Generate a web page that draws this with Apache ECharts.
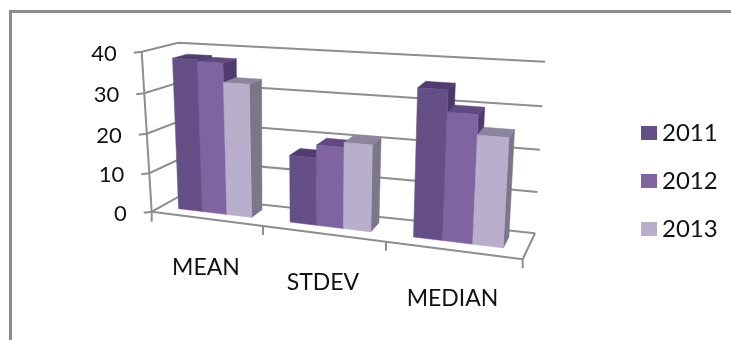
<!DOCTYPE html>
<html>
<head>
<meta charset="utf-8">
<style>html,body{margin:0;padding:0;background:#fff}#chart{width:731px;height:340px}</style>
<script src="https://cdn.jsdelivr.net/npm/echarts@6/dist/echarts.min.js"></script>
</head>
<body>
<div id="chart"></div>
<script>
// Summary statistics per year
const categories = ['MEAN', 'STDEV', 'MEDIAN'];
const years = ['2011', '2012', '2013'];
const values2011 = [38, 16.7, 35];
const values2012 = [37.6, 19.8, 30];
const values2013 = [33, 21, 25.4];
const yTicks = [0, 10, 20, 30, 40];

const W = 731, H = 340;
const FONT = 'Lato, Carlito, "Open Sans", sans-serif';
const AXIS = '#8e8e8e';

// Box corners of the 3D scene: front/back, left/right, bottom/top
const box = {
  flb: [151.7, 211.7], frb: [522.7, 259.3], flt: [141.7, 51.7], frt: [533, 78],
  blb: [180, 196],     brb: [535, 233.3],   blt: [178.3, 42.7], brt: [545, 61.7]
};
const warp = (t, a) => a * t / (1 + (a - 1) * t);
const mix = (p, q, t) => [p[0] + (q[0] - p[0]) * t, p[1] + (q[1] - p[1]) * t];

// Perspective-like mapping from normalised scene coordinates to the canvas
function project(u, v, w) {
  const uu = warp(u, 0.857), vv = warp(v, 0.95);
  const fb = mix(box.flb, box.frb, uu), ft = mix(box.flt, box.frt, uu);
  const bb = mix(box.blb, box.brb, uu), bt = mix(box.blt, box.brt, uu);
  return mix(mix(fb, ft, vv), mix(bb, bt, vv), w);
}

const DEPTH_FRONT = 0.33, DEPTH_BACK = 0.75;
const GROUP_SHARE = 2 / 3;

const line = (pts, width, color) => ({
  type: 'polyline',
  shape: { points: pts },
  style: { stroke: color || AXIS, lineWidth: width, fill: null }
});
const face = (pts, color) => ({
  type: 'polygon',
  shape: { points: pts },
  style: { fill: color, stroke: color, lineWidth: 0.5 }
});
const label = (text, x, y, align, size) => ({
  type: 'text',
  style: { text, x, y, align, verticalAlign: 'middle', fill: '#111', font: size + 'px ' + FONT }
});

// Back wall gridlines, value axis ticks and their labels
function renderGrid(params, api) {
  const tick = api.value(1);
  const v = 1 - api.coord([0, tick])[1] / H;
  const front = project(0, v, 0), fromLeft = project(0, v, 1), right = project(1, v, 1);
  const end = [front[0] - 8, front[1] + 1];
  return {
    type: 'group',
    children: [
      line([end, front, fromLeft, right], 2),
      label(String(tick), end[0] - 17, end[1] + 1, 'right', 22)
    ]
  };
}

// Floor outline, category ticks and the category labels below them
function renderFloor(params, api) {
  const i = api.value(0);
  const band = api.size([1, 0])[0] / W;
  const uc = api.coord([i, 0])[0] / W;
  const start = project(uc - band / 2, 0, 0), stop = project(uc + band / 2, 0, 0);
  const children = [
    line([start, stop], 2),
    line([stop, [stop[0], stop[1] + 9]], 2)
  ];
  if (i === 0) {
    children.push(line([start, [start[0], start[1] + 10]], 2));
    children.push(line([project(0, 1, 0), start], 2));
  }
  if (i === categories.length - 1) children.push(line([stop, project(1, 0, 1)], 2));
  const mid = project(uc, 0, 0);
  children.push(label(categories[i], mid[0], mid[1] + 48.5, 'center', 23));
  return { type: 'group', children };
}

// One 3D column: side and top first, then the front face
function makeBarRenderer(seriesIndex, colors) {
  return function (params, api) {
    const i = api.value(0);
    const band = api.size([1, 0])[0] / W;
    const uc = api.coord([i, 0])[0] / W;
    const barW = band * GROUP_SHARE / years.length;
    const u0 = uc - band * GROUP_SHARE / 2 + seriesIndex * barW, u1 = u0 + barW;
    const v = 1 - api.coord([i, api.value(1)])[1] / H;
    const a = DEPTH_FRONT, b = DEPTH_BACK;
    return {
      type: 'group',
      children: [
        face([project(u1, 0, a), project(u1, 0, b), project(u1, v, b), project(u1, v, a)], colors.side),
        face([project(u0, v, a), project(u1, v, a), project(u1, v, b), project(u0, v, b)], colors.top),
        face([project(u0, 0, a), project(u1, 0, a), project(u1, v, a), project(u0, v, a)], colors.front)
      ]
    };
  };
}

const palette = [
  { front: '#664f87', side: '#4b3868', top: '#503c6e' },
  { front: '#8064a2', side: '#4f3c6f', top: '#5f4980' },
  { front: '#b9aecb', side: '#7c7689', top: '#8d859f' }
];
const seriesValues = [values2011, values2012, values2013];

const barSeries = years.map((year, s) => ({
  type: 'custom',
  name: year,
  renderItem: makeBarRenderer(s, palette[s]),
  data: seriesValues[s].map((val, i) => [i, val]),
  itemStyle: { color: palette[s].front },
  clip: false,
  silent: true
}));

const chart = echarts.init(document.getElementById('chart'), null, { renderer: 'canvas' });
chart.setOption({
  animation: false,
  backgroundColor: '#fff',
  grid: { left: 0, right: 0, top: 0, bottom: 0, containLabel: false },
  xAxis: { type: 'category', data: categories, show: false },
  yAxis: { type: 'value', min: 0, max: 40, interval: 10, show: false },
  legend: {
    data: years,
    orient: 'vertical',
    left: 636,
    top: 116,
    icon: 'rect',
    itemWidth: 16,
    itemHeight: 14,
    itemGap: 24,
    selectedMode: false,
    textStyle: { fontFamily: FONT, fontSize: 24, color: '#111' }
  },
  graphic: [
    { type: 'polyline', shape: { points: [[10.5, H], [10.5, 11.5], [W, 11.5]] },
      style: { stroke: '#8c8c8c', lineWidth: 3, fill: null }, silent: true }
  ],
  series: [
    {
      type: 'custom',
      name: 'grid',
      renderItem: renderGrid,
      data: yTicks.map(t => [0, t]),
      clip: false,
      silent: true
    },
    {
      type: 'custom',
      name: 'floor',
      renderItem: renderFloor,
      data: categories.map((c, i) => [i, 0]),
      clip: false,
      silent: true
    }
  ].concat(barSeries)
});
</script>
</body>
</html>
